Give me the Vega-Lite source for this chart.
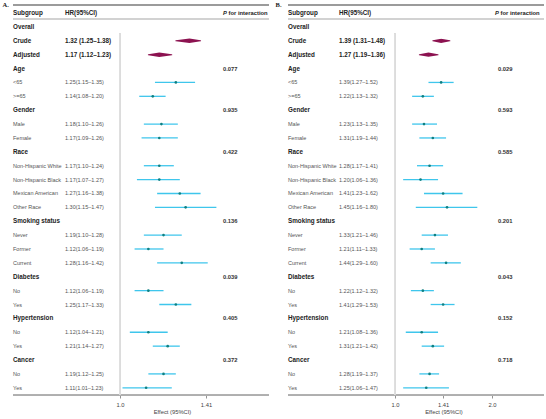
{
  "$schema": "https://vega.github.io/schema/vega-lite/v6.json",
  "padding": {"left": 2, "top": 0, "right": 0, "bottom": 0},
  "background": "white",
  "spacing": 19,
  "bounds": "flush",
  "config": {"view": {"stroke": null}, "font": "Liberation Sans", "text": {"font": "Liberation Sans"}},
  "datasets": {
    "A": [
      {"row": 1, "label": "Overall", "kind": "group"},
      {"row": 2, "label": "Crude", "kind": "overall", "est": 1.32, "lo": 1.25, "hi": 1.38},
      {"row": 3, "label": "Adjusted", "kind": "overall", "est": 1.17, "lo": 1.12, "hi": 1.23},
      {"row": 4, "label": "Age", "kind": "group", "p": "0.077"},
      {"row": 5, "label": "<65", "kind": "sub", "est": 1.25, "lo": 1.15, "hi": 1.35},
      {"row": 6, "label": ">=65", "kind": "sub", "est": 1.14, "lo": 1.08, "hi": 1.20},
      {"row": 7, "label": "Gender", "kind": "group", "p": "0.935"},
      {"row": 8, "label": "Male", "kind": "sub", "est": 1.18, "lo": 1.10, "hi": 1.26},
      {"row": 9, "label": "Female", "kind": "sub", "est": 1.17, "lo": 1.09, "hi": 1.26},
      {"row": 10, "label": "Race", "kind": "group", "p": "0.422"},
      {"row": 11, "label": "Non-Hispanic White", "kind": "sub", "est": 1.17, "lo": 1.10, "hi": 1.24},
      {"row": 12, "label": "Non-Hispanic Black", "kind": "sub", "est": 1.17, "lo": 1.07, "hi": 1.27},
      {"row": 13, "label": "Mexican American", "kind": "sub", "est": 1.27, "lo": 1.16, "hi": 1.38},
      {"row": 14, "label": "Other Race", "kind": "sub", "est": 1.30, "lo": 1.15, "hi": 1.47},
      {"row": 15, "label": "Smoking status", "kind": "group", "p": "0.136"},
      {"row": 16, "label": "Never", "kind": "sub", "est": 1.19, "lo": 1.10, "hi": 1.28},
      {"row": 17, "label": "Former", "kind": "sub", "est": 1.12, "lo": 1.06, "hi": 1.19},
      {"row": 18, "label": "Current", "kind": "sub", "est": 1.28, "lo": 1.16, "hi": 1.42},
      {"row": 19, "label": "Diabetes", "kind": "group", "p": "0.039"},
      {"row": 20, "label": "No", "kind": "sub", "est": 1.12, "lo": 1.06, "hi": 1.19},
      {"row": 21, "label": "Yes", "kind": "sub", "est": 1.25, "lo": 1.17, "hi": 1.33},
      {"row": 22, "label": "Hypertension", "kind": "group", "p": "0.405"},
      {"row": 23, "label": "No", "kind": "sub", "est": 1.12, "lo": 1.04, "hi": 1.21},
      {"row": 24, "label": "Yes", "kind": "sub", "est": 1.21, "lo": 1.14, "hi": 1.27},
      {"row": 25, "label": "Cancer", "kind": "group", "p": "0.372"},
      {"row": 26, "label": "No", "kind": "sub", "est": 1.19, "lo": 1.12, "hi": 1.25},
      {"row": 27, "label": "Yes", "kind": "sub", "est": 1.11, "lo": 1.01, "hi": 1.23}
    ],
    "B": [
      {"row": 1, "label": "Overall", "kind": "group"},
      {"row": 2, "label": "Crude", "kind": "overall", "est": 1.39, "lo": 1.31, "hi": 1.48},
      {"row": 3, "label": "Adjusted", "kind": "overall", "est": 1.27, "lo": 1.19, "hi": 1.36},
      {"row": 4, "label": "Age", "kind": "group", "p": "0.029"},
      {"row": 5, "label": "<65", "kind": "sub", "est": 1.39, "lo": 1.27, "hi": 1.52},
      {"row": 6, "label": ">=65", "kind": "sub", "est": 1.22, "lo": 1.13, "hi": 1.32},
      {"row": 7, "label": "Gender", "kind": "group", "p": "0.593"},
      {"row": 8, "label": "Male", "kind": "sub", "est": 1.23, "lo": 1.13, "hi": 1.35},
      {"row": 9, "label": "Female", "kind": "sub", "est": 1.31, "lo": 1.19, "hi": 1.44},
      {"row": 10, "label": "Race", "kind": "group", "p": "0.585"},
      {"row": 11, "label": "Non-Hispanic White", "kind": "sub", "est": 1.28, "lo": 1.17, "hi": 1.41},
      {"row": 12, "label": "Non-Hispanic Black", "kind": "sub", "est": 1.20, "lo": 1.06, "hi": 1.36},
      {"row": 13, "label": "Mexican American", "kind": "sub", "est": 1.41, "lo": 1.23, "hi": 1.62},
      {"row": 14, "label": "Other Race", "kind": "sub", "est": 1.45, "lo": 1.16, "hi": 1.80},
      {"row": 15, "label": "Smoking status", "kind": "group", "p": "0.201"},
      {"row": 16, "label": "Never", "kind": "sub", "est": 1.33, "lo": 1.21, "hi": 1.46},
      {"row": 17, "label": "Former", "kind": "sub", "est": 1.21, "lo": 1.11, "hi": 1.33},
      {"row": 18, "label": "Current", "kind": "sub", "est": 1.44, "lo": 1.29, "hi": 1.60},
      {"row": 19, "label": "Diabetes", "kind": "group", "p": "0.043"},
      {"row": 20, "label": "No", "kind": "sub", "est": 1.22, "lo": 1.12, "hi": 1.32},
      {"row": 21, "label": "Yes", "kind": "sub", "est": 1.41, "lo": 1.29, "hi": 1.53},
      {"row": 22, "label": "Hypertension", "kind": "group", "p": "0.152"},
      {"row": 23, "label": "No", "kind": "sub", "est": 1.21, "lo": 1.08, "hi": 1.36},
      {"row": 24, "label": "Yes", "kind": "sub", "est": 1.31, "lo": 1.21, "hi": 1.42},
      {"row": 25, "label": "Cancer", "kind": "group", "p": "0.718"},
      {"row": 26, "label": "No", "kind": "sub", "est": 1.28, "lo": 1.19, "hi": 1.37},
      {"row": 27, "label": "Yes", "kind": "sub", "est": 1.25, "lo": 1.06, "hi": 1.47}
    ]
  },
  "hconcat": [
    {
      "title": {"text": "A.", "anchor": "start", "dx": -10, "offset": -8, "font": "Liberation Serif", "fontSize": 6.5, "fontWeight": "bold", "color": "#222"},
      "width": 256,
      "height": 395,
      "data": {"name": "A"},
      "resolve": {"scale": {"x": "independent"}, "axis": {"x": "independent"}},
      "layer": [
        {"mark": {"type": "rule", "color": "#9a9a9a", "strokeWidth": 0.8},
         "encoding": {"y": {"datum": -0.58, "type": "quantitative", "scale": {"domain": [-0.94, 27.52], "reverse": true, "nice": false, "zero": false}, "axis": null}}},
        {"mark": {"type": "rule", "color": "#d2d2d2", "strokeWidth": 0.8},
         "encoding": {"y": {"datum": 0.43, "type": "quantitative", "axis": null}}},
        {"mark": {"type": "rule", "color": "#b0b0b0", "strokeWidth": 0.8},
         "encoding": {"y": {"datum": 27.52, "type": "quantitative", "axis": null}}},
        {"mark": {"type": "rule", "color": "#dddddd", "strokeWidth": 0.8},
         "encoding": {
           "x": {"datum": 1, "type": "quantitative", "scale": {"type": "log", "domain": [1, 1.814], "range": [107, 256], "nice": false}, "axis": null},
           "y": {"datum": 1.5, "type": "quantitative", "axis": null},
           "y2": {"datum": 27.52}}},
        {"transform": [{"filter": "datum.kind === 'sub'"}],
         "mark": {"type": "rule", "color": "#3FC6EC", "strokeWidth": 1.3},
         "encoding": {
           "x": {"field": "lo", "type": "quantitative", "scale": {"type": "log", "domain": [1, 1.814], "range": [107, 256], "nice": false},
                 "axis": {"values": [1, 1.41], "labelExpr": "datum.value === 1 ? '1.0' : format(datum.value, '.2f')", "title": "Effect (95%CI)", "titleX": 159, "domain": false, "grid": false, "tickSize": 3, "tickColor": "#777", "tickWidth": 0.8, "labelFontSize": 5.8, "labelColor": "#444", "labelPadding": 3, "labelFlush": false, "titleFontSize": 5.8, "titleFontWeight": "normal", "titleColor": "#444", "titlePadding": 2}},
           "x2": {"field": "hi"},
           "y": {"field": "row", "type": "quantitative", "axis": null}}},
        {"transform": [{"filter": "datum.kind === 'sub'"}],
         "mark": {"type": "circle", "size": 7, "color": "#0F7F80", "opacity": 1},
         "encoding": {
           "x": {"field": "est", "type": "quantitative", "scale": {"type": "log", "domain": [1, 1.814], "range": [107, 256], "nice": false}, "axis": null},
           "y": {"field": "row", "type": "quantitative", "axis": null}}},
        {"transform": [{"filter": "datum.kind === 'overall'"}, {"fold": ["lo", "est", "hi"], "as": ["bound", "v"]}],
         "mark": {"type": "trail", "color": "#8C1250"},
         "encoding": {
           "x": {"field": "v", "type": "quantitative", "scale": {"type": "log", "domain": [1, 1.814], "range": [107, 256], "nice": false}, "axis": null},
           "y": {"field": "row", "type": "quantitative", "axis": null},
           "detail": {"field": "label"},
           "size": {"condition": {"test": "datum.bound === 'est'", "value": 4.6}, "value": 0}}},
        {"transform": [{"filter": "datum.kind !== 'sub'"}],
         "mark": {"type": "text", "align": "left", "baseline": "middle", "fontSize": 6.3, "fontWeight": "bold", "color": "#222"},
         "encoding": {
           "x": {"datum": "Subgroup", "type": "nominal", "scale": {"type": "point", "domain": ["Subgroup", "HR(95%CI)"], "range": [0, 52], "padding": 0}, "axis": null},
           "y": {"field": "row", "type": "quantitative", "axis": null},
           "text": {"field": "label"}}},
        {"transform": [{"filter": "datum.kind === 'sub'"}],
         "mark": {"type": "text", "align": "left", "baseline": "middle", "fontSize": 5.5, "color": "#555"},
         "encoding": {
           "x": {"datum": "Subgroup", "type": "nominal", "scale": {"type": "point", "domain": ["Subgroup", "HR(95%CI)"], "range": [0, 52], "padding": 0}, "axis": null},
           "y": {"field": "row", "type": "quantitative", "axis": null},
           "text": {"field": "label"}}},
        {"transform": [{"filter": "datum.kind === 'overall'"}, {"calculate": "format(datum.est, '.2f') + ' (' + format(datum.lo, '.2f') + '–' + format(datum.hi, '.2f') + ')'", "as": "hrText"}],
         "mark": {"type": "text", "align": "left", "baseline": "middle", "fontSize": 6.3, "fontWeight": "bold", "color": "#222"},
         "encoding": {
           "x": {"datum": "HR(95%CI)", "type": "nominal", "scale": {"type": "point", "domain": ["Subgroup", "HR(95%CI)"], "range": [0, 52], "padding": 0}, "axis": null},
           "y": {"field": "row", "type": "quantitative", "axis": null},
           "text": {"field": "hrText"}}},
        {"transform": [{"filter": "datum.kind === 'sub'"}, {"calculate": "format(datum.est, '.2f') + '(' + format(datum.lo, '.2f') + '–' + format(datum.hi, '.2f') + ')'", "as": "hrText"}],
         "mark": {"type": "text", "align": "left", "baseline": "middle", "fontSize": 5.5, "color": "#555"},
         "encoding": {
           "x": {"datum": "HR(95%CI)", "type": "nominal", "scale": {"type": "point", "domain": ["Subgroup", "HR(95%CI)"], "range": [0, 52], "padding": 0}, "axis": null},
           "y": {"field": "row", "type": "quantitative", "axis": null},
           "text": {"field": "hrText"}}},
        {"transform": [{"filter": "isValid(datum.p)"}],
         "mark": {"type": "text", "align": "left", "baseline": "middle", "fontSize": 5.8, "fontWeight": "bold", "color": "#333"},
         "encoding": {
           "x": {"datum": "P", "type": "nominal", "scale": {"type": "point", "domain": ["P"], "range": [210, 256], "align": 0, "padding": 0}, "axis": null},
           "y": {"field": "row", "type": "quantitative", "axis": null},
           "text": {"field": "p"}}},
        {"data": {"values": [{"h": "Subgroup"}, {"h": "HR(95%CI)"}]},
         "mark": {"type": "text", "align": "left", "baseline": "middle", "fontSize": 6.3, "fontWeight": "bold", "color": "#222"},
         "encoding": {
           "x": {"field": "h", "type": "nominal", "scale": {"type": "point", "domain": ["Subgroup", "HR(95%CI)"], "range": [0, 52], "padding": 0}, "axis": null},
           "y": {"datum": 0, "type": "quantitative", "axis": null},
           "text": {"field": "h"}}},
        {"data": {"values": [{"t": "P"}]},
         "mark": {"type": "text", "align": "left", "baseline": "middle", "fontSize": 5.8, "fontWeight": "bold", "fontStyle": "italic", "color": "#222"},
         "encoding": {
           "x": {"datum": "P", "type": "nominal", "scale": {"type": "point", "domain": ["P"], "range": [210, 256], "align": 0, "padding": 0}, "axis": null},
           "y": {"datum": 0, "type": "quantitative", "axis": null},
           "text": {"field": "t"}}},
        {"data": {"values": [{"t": "for interaction"}]},
         "mark": {"type": "text", "align": "left", "baseline": "middle", "fontSize": 5.8, "fontWeight": "bold", "color": "#222", "dx": 5.6},
         "encoding": {
           "x": {"datum": "P", "type": "nominal", "scale": {"type": "point", "domain": ["P"], "range": [210, 256], "align": 0, "padding": 0}, "axis": null},
           "y": {"datum": 0, "type": "quantitative", "axis": null},
           "text": {"field": "t"}}}
      ]
    },
    {
      "title": {"text": "B.", "anchor": "start", "dx": -12, "offset": -8, "font": "Liberation Serif", "fontSize": 6.5, "fontWeight": "bold", "color": "#222"},
      "width": 256,
      "height": 395,
      "data": {"name": "B"},
      "resolve": {"scale": {"x": "independent"}, "axis": {"x": "independent"}},
      "layer": [
        {"mark": {"type": "rule", "color": "#9a9a9a", "strokeWidth": 0.8},
         "encoding": {"y": {"datum": -0.58, "type": "quantitative", "scale": {"domain": [-0.94, 27.52], "reverse": true, "nice": false, "zero": false}, "axis": null}}},
        {"mark": {"type": "rule", "color": "#d2d2d2", "strokeWidth": 0.8},
         "encoding": {"y": {"datum": 0.43, "type": "quantitative", "axis": null}}},
        {"mark": {"type": "rule", "color": "#b0b0b0", "strokeWidth": 0.8},
         "encoding": {"y": {"datum": 27.52, "type": "quantitative", "axis": null}}},
        {"mark": {"type": "rule", "color": "#dddddd", "strokeWidth": 0.8},
         "encoding": {
           "x": {"datum": 1, "type": "quantitative", "scale": {"type": "log", "domain": [1, 2.898], "range": [107, 256], "nice": false}, "axis": null},
           "y": {"datum": 1.5, "type": "quantitative", "axis": null},
           "y2": {"datum": 27.52}}},
        {"transform": [{"filter": "datum.kind === 'sub'"}],
         "mark": {"type": "rule", "color": "#3FC6EC", "strokeWidth": 1.3},
         "encoding": {
           "x": {"field": "lo", "type": "quantitative", "scale": {"type": "log", "domain": [1, 2.898], "range": [107, 256], "nice": false},
                 "axis": {"values": [1, 1.41, 2], "labelExpr": "datum.value === 1.41 ? '1.41' : format(datum.value, '.1f')", "title": "Effect (95%CI)", "titleX": 155.5, "domain": false, "grid": false, "tickSize": 3, "tickColor": "#777", "tickWidth": 0.8, "labelFontSize": 5.8, "labelColor": "#444", "labelPadding": 3, "labelFlush": false, "titleFontSize": 5.8, "titleFontWeight": "normal", "titleColor": "#444", "titlePadding": 2}},
           "x2": {"field": "hi"},
           "y": {"field": "row", "type": "quantitative", "axis": null}}},
        {"transform": [{"filter": "datum.kind === 'sub'"}],
         "mark": {"type": "circle", "size": 7, "color": "#0F7F80", "opacity": 1},
         "encoding": {
           "x": {"field": "est", "type": "quantitative", "scale": {"type": "log", "domain": [1, 2.898], "range": [107, 256], "nice": false}, "axis": null},
           "y": {"field": "row", "type": "quantitative", "axis": null}}},
        {"transform": [{"filter": "datum.kind === 'overall'"}, {"fold": ["lo", "est", "hi"], "as": ["bound", "v"]}],
         "mark": {"type": "trail", "color": "#8C1250"},
         "encoding": {
           "x": {"field": "v", "type": "quantitative", "scale": {"type": "log", "domain": [1, 2.898], "range": [107, 256], "nice": false}, "axis": null},
           "y": {"field": "row", "type": "quantitative", "axis": null},
           "detail": {"field": "label"},
           "size": {"condition": {"test": "datum.bound === 'est'", "value": 4.2}, "value": 0}}},
        {"transform": [{"filter": "datum.kind !== 'sub'"}],
         "mark": {"type": "text", "align": "left", "baseline": "middle", "fontSize": 6.3, "fontWeight": "bold", "color": "#222"},
         "encoding": {
           "x": {"datum": "Subgroup", "type": "nominal", "scale": {"type": "point", "domain": ["Subgroup", "HR(95%CI)"], "range": [0, 51], "padding": 0}, "axis": null},
           "y": {"field": "row", "type": "quantitative", "axis": null},
           "text": {"field": "label"}}},
        {"transform": [{"filter": "datum.kind === 'sub'"}],
         "mark": {"type": "text", "align": "left", "baseline": "middle", "fontSize": 5.5, "color": "#555"},
         "encoding": {
           "x": {"datum": "Subgroup", "type": "nominal", "scale": {"type": "point", "domain": ["Subgroup", "HR(95%CI)"], "range": [0, 51], "padding": 0}, "axis": null},
           "y": {"field": "row", "type": "quantitative", "axis": null},
           "text": {"field": "label"}}},
        {"transform": [{"filter": "datum.kind === 'overall'"}, {"calculate": "format(datum.est, '.2f') + ' (' + format(datum.lo, '.2f') + '–' + format(datum.hi, '.2f') + ')'", "as": "hrText"}],
         "mark": {"type": "text", "align": "left", "baseline": "middle", "fontSize": 6.3, "fontWeight": "bold", "color": "#222"},
         "encoding": {
           "x": {"datum": "HR(95%CI)", "type": "nominal", "scale": {"type": "point", "domain": ["Subgroup", "HR(95%CI)"], "range": [0, 51], "padding": 0}, "axis": null},
           "y": {"field": "row", "type": "quantitative", "axis": null},
           "text": {"field": "hrText"}}},
        {"transform": [{"filter": "datum.kind === 'sub'"}, {"calculate": "format(datum.est, '.2f') + '(' + format(datum.lo, '.2f') + '–' + format(datum.hi, '.2f') + ')'", "as": "hrText"}],
         "mark": {"type": "text", "align": "left", "baseline": "middle", "fontSize": 5.5, "color": "#555"},
         "encoding": {
           "x": {"datum": "HR(95%CI)", "type": "nominal", "scale": {"type": "point", "domain": ["Subgroup", "HR(95%CI)"], "range": [0, 51], "padding": 0}, "axis": null},
           "y": {"field": "row", "type": "quantitative", "axis": null},
           "text": {"field": "hrText"}}},
        {"transform": [{"filter": "isValid(datum.p)"}],
         "mark": {"type": "text", "align": "left", "baseline": "middle", "fontSize": 5.8, "fontWeight": "bold", "color": "#333"},
         "encoding": {
           "x": {"datum": "P", "type": "nominal", "scale": {"type": "point", "domain": ["P"], "range": [210, 256], "align": 0, "padding": 0}, "axis": null},
           "y": {"field": "row", "type": "quantitative", "axis": null},
           "text": {"field": "p"}}},
        {"data": {"values": [{"h": "Subgroup"}, {"h": "HR(95%CI)"}]},
         "mark": {"type": "text", "align": "left", "baseline": "middle", "fontSize": 6.3, "fontWeight": "bold", "color": "#222"},
         "encoding": {
           "x": {"field": "h", "type": "nominal", "scale": {"type": "point", "domain": ["Subgroup", "HR(95%CI)"], "range": [0, 51], "padding": 0}, "axis": null},
           "y": {"datum": 0, "type": "quantitative", "axis": null},
           "text": {"field": "h"}}},
        {"data": {"values": [{"t": "P"}]},
         "mark": {"type": "text", "align": "left", "baseline": "middle", "fontSize": 5.8, "fontWeight": "bold", "fontStyle": "italic", "color": "#222"},
         "encoding": {
           "x": {"datum": "P", "type": "nominal", "scale": {"type": "point", "domain": ["P"], "range": [207, 256], "align": 0, "padding": 0}, "axis": null},
           "y": {"datum": 0, "type": "quantitative", "axis": null},
           "text": {"field": "t"}}},
        {"data": {"values": [{"t": "for interaction"}]},
         "mark": {"type": "text", "align": "left", "baseline": "middle", "fontSize": 5.8, "fontWeight": "bold", "color": "#222", "dx": 5.6},
         "encoding": {
           "x": {"datum": "P", "type": "nominal", "scale": {"type": "point", "domain": ["P"], "range": [207, 256], "align": 0, "padding": 0}, "axis": null},
           "y": {"datum": 0, "type": "quantitative", "axis": null},
           "text": {"field": "t"}}}
      ]
    }
  ]
}
